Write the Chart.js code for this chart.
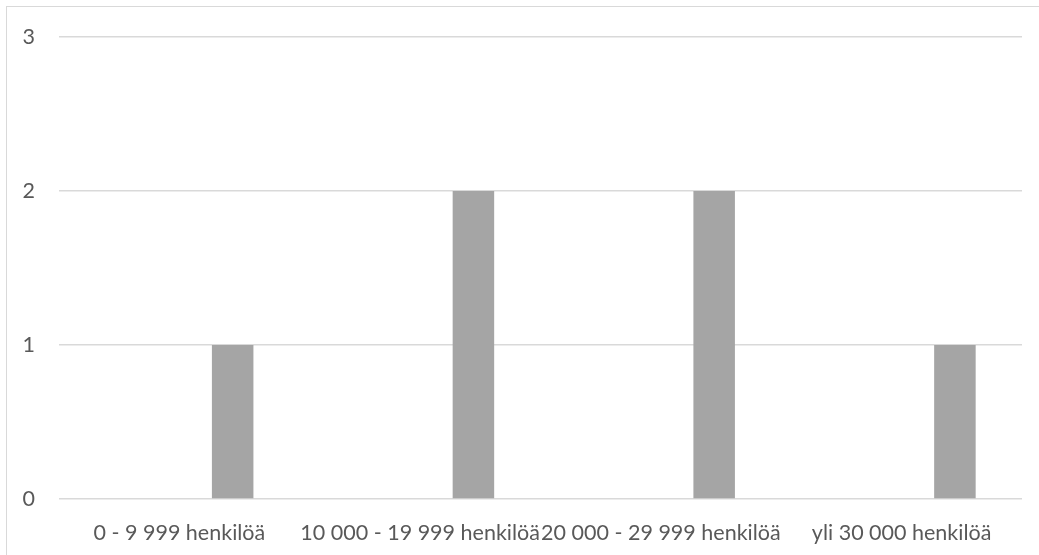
<!DOCTYPE html>
<html lang="fi">
<head>
<meta charset="utf-8">
<title>Henkilömäärä</title>
<script src="https://cdn.jsdelivr.net/npm/chart.js@4/dist/chart.umd.min.js"></script>
<style>
  html, body { margin: 0; padding: 0; background: #ffffff; overflow: hidden; }
  #wrap { position: relative; width: 1039px; height: 555px; overflow: hidden; }
  #frame { position: absolute; left: 6px; top: 6px; width: 1100px; height: 700px;
           border: 1px solid #D9D9D9; box-sizing: border-box; }
  #c { position: absolute; left: 0; top: 0; }
</style>
</head>
<body>
<div id="wrap">
  <div id="frame"></div>
  <canvas id="c" width="1039" height="555"></canvas>
</div>
<script>
// Categories along the x axis
const categories = ['0 - 9 999 henkilöä', '10 000 - 19 999 henkilöä', '20 000 - 29 999 henkilöä', 'yli 30 000 henkilöä'];

// Three series; only the third one carries values
const series1 = [null, null, null, null];
const series2 = [null, null, null, null];
const series3 = [1, 2, 2, 1];

// Value axis ticks
const yTicks = [0, 1, 2, 3];

const textColor = '#595959';
const gridColor = '#D9D9D9';
const fontFamily = 'Lato, "Open Sans", sans-serif';

new Chart(document.getElementById('c'), {
  type: 'bar',
  data: {
    labels: categories,
    datasets: [
      { label: 'Sarja1', data: series1, backgroundColor: '#4472C4' },
      { label: 'Sarja2', data: series2, backgroundColor: '#ED7D31' },
      { label: 'Sarja3', data: series3, backgroundColor: '#A5A5A5' }
    ]
  },
  options: {
    responsive: false,
    animation: false,
    devicePixelRatio: 1,
    categoryPercentage: 0.664,
    barPercentage: 0.779,
    layout: { padding: { top: 35, right: 17, bottom: 0, left: 0 } },
    plugins: { legend: { display: false }, tooltip: { enabled: false } },
    scales: {
      x: {
        grid: { display: false },
        border: { display: false },
        ticks: {
          color: textColor,
          font: { family: fontFamily, size: 21.5 },
          padding: 13,
          maxRotation: 0,
          minRotation: 0,
          autoSkip: false
        },
        afterFit: (scale) => { scale.height = 56; }
      },
      y: {
        min: yTicks[0],
        max: yTicks[yTicks.length - 1],
        afterBuildTicks: (scale) => { scale.ticks = yTicks.map(v => ({ value: v })); },
        grid: { color: gridColor, lineWidth: 1.5, drawTicks: false },
        border: { display: false },
        ticks: {
          color: textColor,
          font: { family: fontFamily, size: 21.5 },
          padding: 24
        },
        afterFit: (scale) => { scale.width = 59; }
      }
    }
  }
});
</script>
</body>
</html>
